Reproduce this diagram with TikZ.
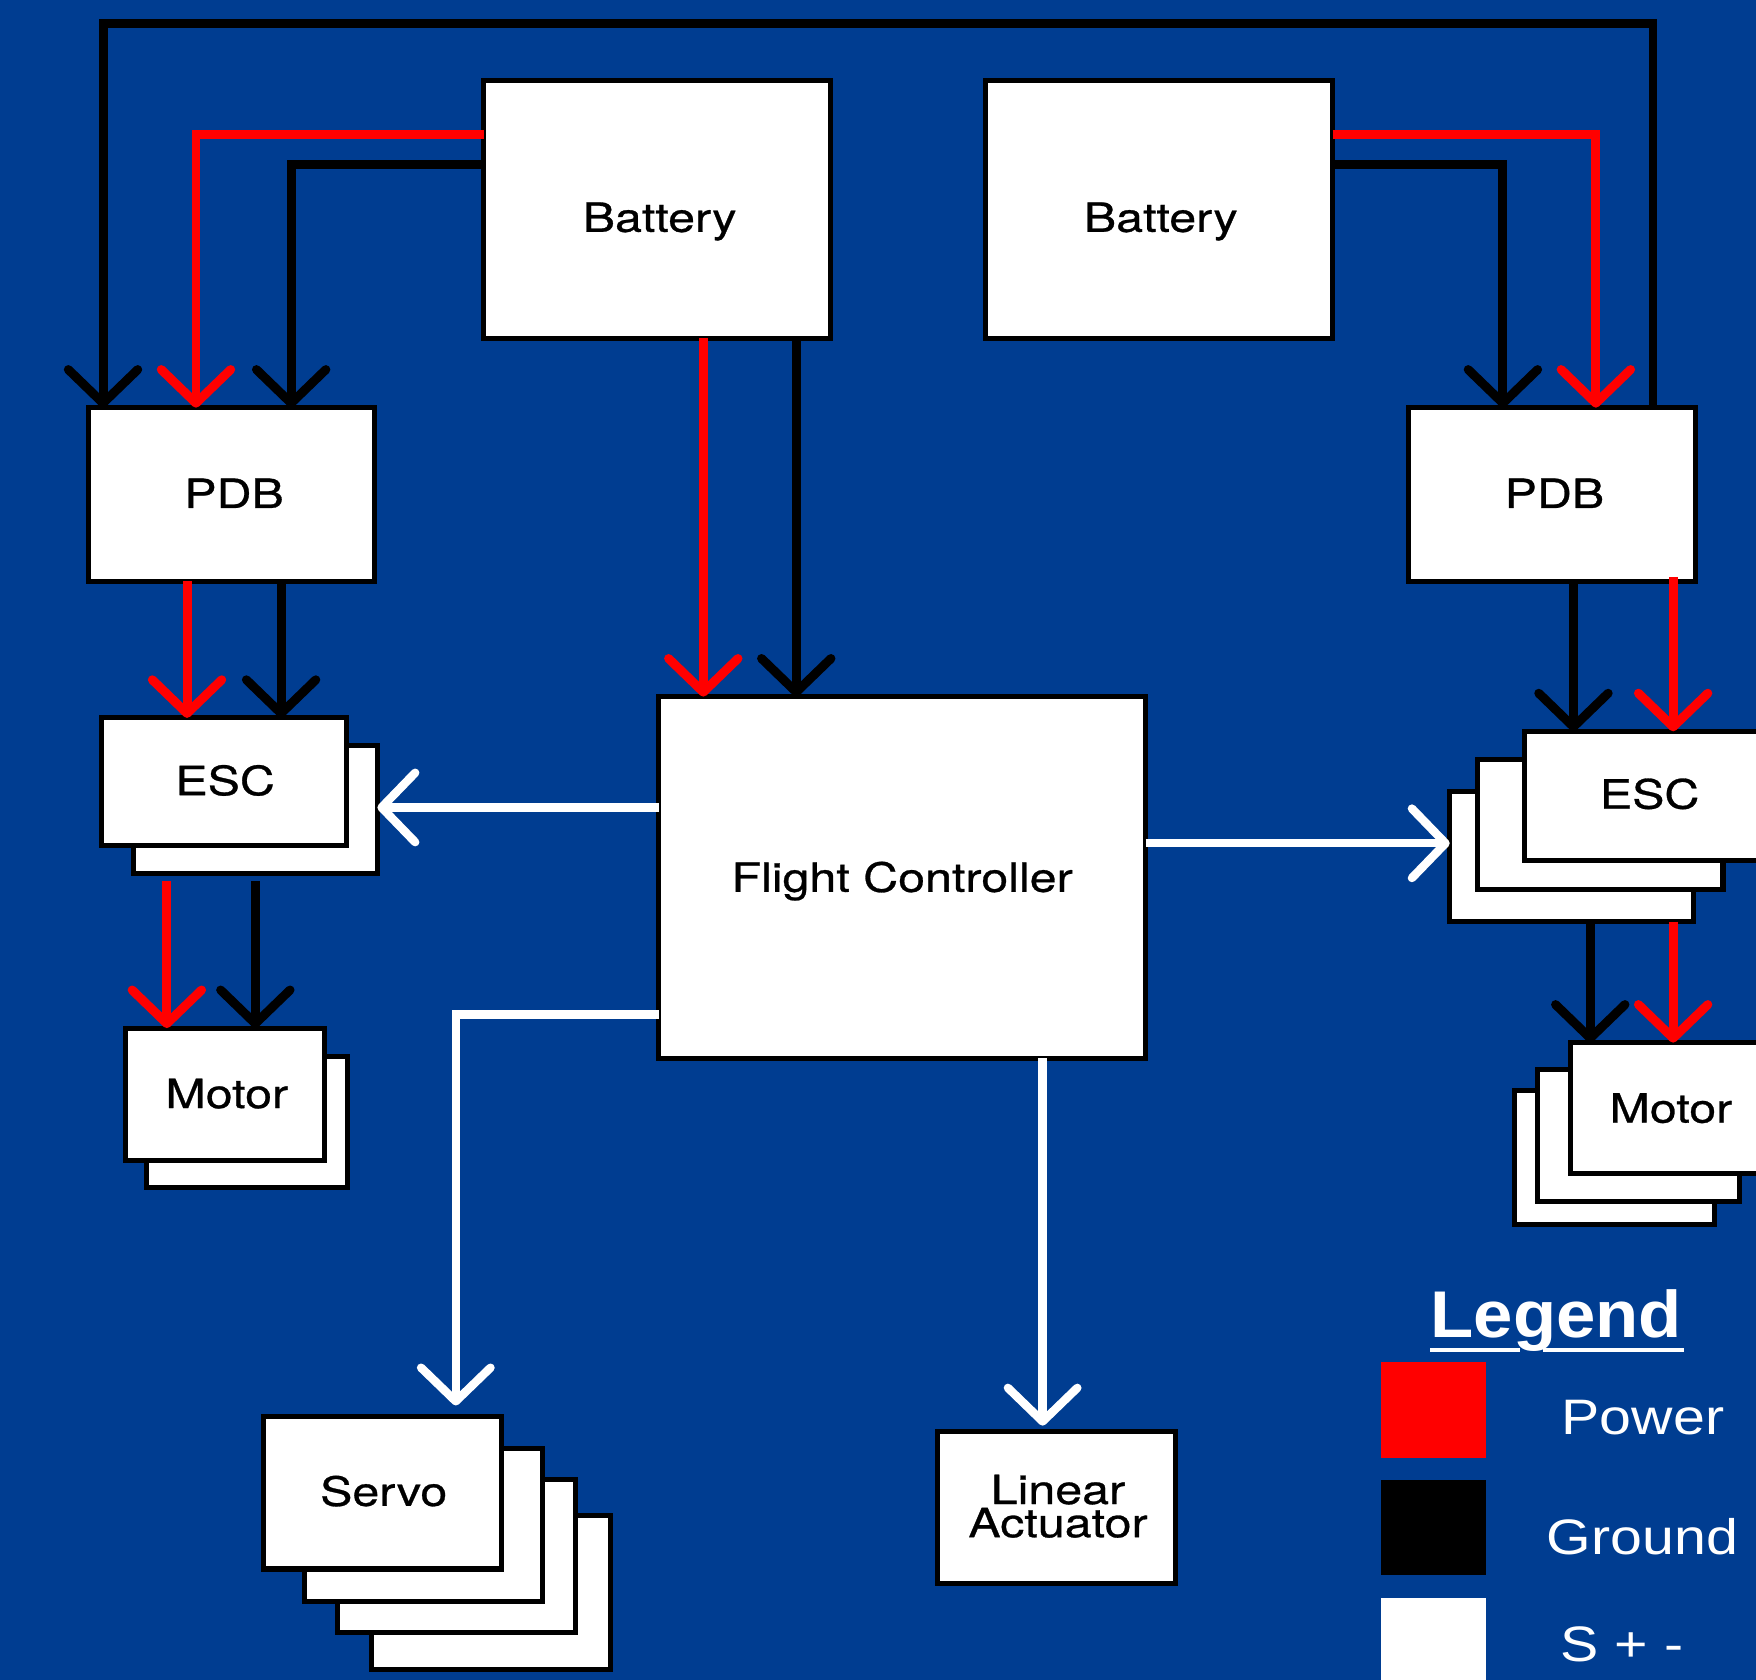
\documentclass[tikz,border=0pt]{standalone}
\usepackage{fontspec}
\setmainfont{TeX Gyre Heros}[FakeStretch=1.2,FakeBold=0.7]
\newfontfamily\legfont[FakeStretch=1.15]{Liberation Sans}
\newfontfamily\legtitlefont[FakeStretch=1.07]{Liberation Sans}
\usetikzlibrary{arrows.meta}
\definecolor{bgblue}{RGB}{0,61,145}
\definecolor{pwrred}{RGB}{255,0,0}
\begin{document}
\begin{tikzpicture}[x=1pt,y=-1pt,
  box/.style={draw=black,fill=white,line width=4.5pt,inner sep=0pt,outer sep=0pt},
  lbl/.style={anchor=base,inner sep=0pt,text=black,font=\fontsize{36}{36}\selectfont},
  legtext/.style={anchor=base,inner sep=0pt,text=white,font=\legfont\fontsize{44.5}{44.5}\selectfont},
  >={Straight Barb[length=30pt,width=62pt,line cap=round,line join=round]},
  gn/.style={draw=black,line width=8pt},
  pw/.style={draw=pwrred,line width=8pt},
  sg/.style={draw=white,line width=7.5pt},
  swatch/.style={inner sep=0pt,outer sep=0pt,minimum width=93.5pt,minimum height=85pt}]
\useasboundingbox (0,0) rectangle (1568,1500);
\fill[bgblue] (0,0) rectangle (1568,1500);
\clip (0,0) rectangle (1568,1500);

% boxes
\node[box,minimum width=310pt,minimum height=230pt] (batL) at (587,187) {};
\node[box,minimum width=310pt,minimum height=230pt] (batR) at (1035,187) {};
\node[box,minimum width=255pt,minimum height=155pt] (pdbL) at (206.5,441.5) {};
\node[box,minimum width=256pt,minimum height=155pt] (pdbR) at (1386,441.5) {};
\node[box,minimum width=218pt,minimum height=114pt] (escLb) at (228,723) {};
\node[box,minimum width=218pt,minimum height=114pt] (escL) at (200,698) {};
\node[box,minimum width=179pt,minimum height=117pt] (motLb) at (220.5,1001.5) {};
\node[box,minimum width=178pt,minimum height=118pt] (motL) at (201,977) {};
\node[box,minimum width=435pt,minimum height=323pt] (fc) at (805.5,783.5) {};
\node[box,minimum width=218pt,minimum height=116pt] (escR3) at (1403.5,765) {};
\node[box,minimum width=219pt,minimum height=116pt] (escR2) at (1429,736) {};
\node[box,minimum width=218pt,minimum height=115pt] (escR) at (1470,710.5) {};
\node[box,minimum width=179pt,minimum height=119pt] (motR3) at (1441.5,1033.5) {};
\node[box,minimum width=180pt,minimum height=117.5pt] (motR2) at (1463,1014) {};
\node[box,minimum width=180pt,minimum height=117pt] (motR) at (1492,989.5) {};
\node[box,minimum width=213pt,minimum height=138pt] (servo4) at (438.5,1422) {};
\node[box,minimum width=212.5pt,minimum height=137pt] (servo3) at (407.25,1389.5) {};
\node[box,minimum width=212.5pt,minimum height=137pt] (servo2) at (377.75,1361.5) {};
\node[box,minimum width=212.5pt,minimum height=136pt] (servo) at (341.75,1333) {};
\node[box,minimum width=212.5pt,minimum height=136pt] (lin) at (943.75,1346) {};

% labels
\node[lbl] (batLt) at (589,207) {Battery};
\node[lbl] (batRt) at (1036.5,207) {Battery};
\node[lbl] (pdbLt) at (209,453.6) {PDB};
\node[lbl] (pdbRt) at (1388,453.6) {PDB};
\node[lbl] (escLt) at (201,710) {ESC};
\node[lbl] (motLt) at (202.5,989.4) {Motor};
\node[lbl] (escRt) at (1473,722) {ESC};
\node[lbl] (motRt) at (1492,1002.4) {Motor};
\node[lbl] (fct) at (805.5,796.3) {Flight Controller};
\node[lbl] (servot) at (342.6,1344.6) {Servo};
\node[lbl,align=center,font=\fontsize{36}{29.6}\selectfont] (lint) at (944.7,1372.6) {Linear\\Actuator};

% connectors
\coordinate (tl) at (92,21);
\coordinate (tr) at (1476,21);
\draw[gn,->] (pdbR.north -| tr) -- (tr) -- (tl) -- (pdbL.north -| tl);

\coordinate (rl) at (175,120);
\coordinate (kl) at (260,147);
\draw[pw,->] (batL.west |- rl) -- (rl) -- (pdbL.north -| rl);
\draw[gn,->] (batL.west |- kl) -- (kl) -- (pdbL.north -| kl);
\coordinate (rr) at (1425,120);
\coordinate (kr) at (1342,147);
\draw[pw,->] (batR.east |- rr) -- (rr) -- (pdbR.north -| rr);
\draw[gn,->] (batR.east |- kr) -- (kr) -- (pdbR.north -| kr);

\coordinate (xa) at (628,0);
\coordinate (xb) at (711,0);
\draw[pw,->] (batL.south -| xa) -- (fc.north -| xa);
\draw[gn,->] (batL.south -| xb) -- (fc.north -| xb);

\coordinate (xc) at (167,0);
\coordinate (xd) at (251,0);
\draw[pw,->] (pdbL.south -| xc) -- (escL.north -| xc);
\draw[gn,->] (pdbL.south -| xd) -- (escL.north -| xd);

\coordinate (xe) at (149,0);
\coordinate (xf) at (228,0);
\draw[pw,->,shorten <=7pt] (escLb.south -| xe) -- (motL.north -| xe);
\draw[gn,->,shorten <=7pt] (escLb.south -| xf) -- (motL.north -| xf);

\coordinate (xg) at (1405,0);
\coordinate (xh) at (1494,0);
\draw[gn,->] (pdbR.south -| xg) -- (escR.north -| xg);
\draw[pw,->,shorten <=-4pt] (pdbR.south -| xh) -- (escR.north -| xh);

\coordinate (xi) at (1420,0);
\coordinate (xj) at (1494,0);
\draw[gn,->] (escR3.south -| xi) -- (motR.north -| xi);
\draw[pw,->] (escR3.south -| xj) -- (motR.north -| xj);

\coordinate (ya) at (0,721);
\coordinate (yb) at (0,753);
\draw[sg,->] (fc.west |- ya) -- (escLb.east |- ya);
\draw[sg,->] (fc.east |- yb) -- (escR3.west |- yb);
\coordinate (sv) at (407,906);
\draw[sg,->,shorten >=10pt] (fc.west |- sv) -- (sv) -- (servo.north -| sv);
\coordinate (xk) at (931,0);
\draw[sg,->,shorten >=5pt] (fc.south -| xk) -- (lin.north -| xk);

% legend
\node[anchor=base,inner sep=0pt,text=white,font=\legtitlefont\bfseries\fontsize{59}{59}\selectfont] (legt) at (1389.75,1194) {Legend};
\draw[white,line width=3.5pt] (1277,1205.5) -- (1357,1205.5) (1378,1205.5) -- (1504,1205.5);
\node[swatch,fill=pwrred] (swp) at (1279.75,1259.1) {};
\node[swatch,fill=black] (swg) at (1279.75,1363.7) {};
\node[swatch,fill=white] (sws) at (1279.75,1469) {};
\node[legtext] (lp) at (1467,1280.5) {Power};
\node[legtext] (lg) at (1466.5,1388) {Ground};
\node[legtext] (ls) at (1448.5,1483.7) {S + -};
\end{tikzpicture}
\end{document}
